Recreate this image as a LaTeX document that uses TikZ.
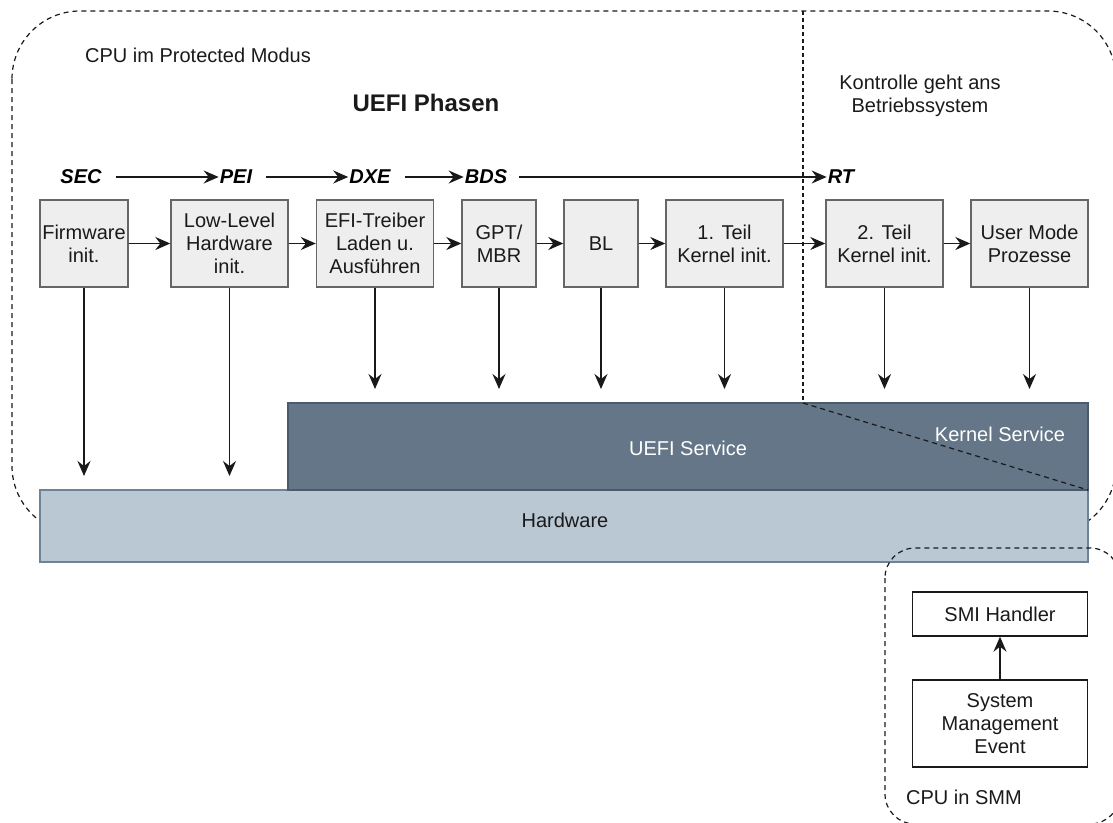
\documentclass[tikz,border=0pt]{standalone}
\usepackage{fontspec}
\setmainfont{Liberation Sans}
\usetikzlibrary{arrows.meta}
\definecolor{boxfill}{HTML}{EEEEEE}
\definecolor{boxline}{HTML}{666666}
\definecolor{uefifill}{HTML}{647687}
\definecolor{uefiline}{HTML}{4A5B6B}
\definecolor{hwfill}{HTML}{BAC8D3}
\definecolor{hwline}{HTML}{6F8396}
\definecolor{ink}{HTML}{1A1A1A}
\begin{document}
\begin{tikzpicture}[x=1pt,y=-1pt,
  txt/.style={font=\fontsize{20}{23}\selectfont, text=ink, align=center, inner sep=0pt},
  stepbox/.style={txt, draw=boxline, fill=boxfill, line width=1.4pt},
  plainbox/.style={txt, draw=ink, fill=white, line width=1.4pt},
  phase/.style={font=\fontsize{20}{24}\selectfont\bfseries\itshape, text=black, inner sep=1pt},
  flow/.style={-{Stealth[length=15pt,width=13pt,inset=5pt]}, line width=1.5pt, draw=black!90},
  zone/.style={draw=ink, line width=1.2pt, dash pattern=on 5pt off 4pt},
  layer/.style={line width=1.2pt}]
\useasboundingbox (0,0) rectangle (1113,822);

% protected-mode region
\draw[zone, rounded corners=68pt] (12,11) rectangle (1116,534);

% service and hardware layers
\path[layer, fill=hwfill, draw=hwline] (40,490) rectangle (1088,562);
\path[layer, fill=uefifill, draw=uefiline] (288,403) rectangle (1088,490);
\node[txt, text=white] (uefisvc) at (688,448) {UEFI Service};
\node[txt, text=white] (kernsvc) at (1000,434) {Kernel Service};
\node[txt] (hw) at (565,520) {Hardware};

% SMM region
\draw[zone, rounded corners=30pt] (885,548) rectangle (1120,824);

% boundary between firmware and operating system
\coordinate (splittop) at (803,11);
\coordinate (splitmid) at (803,403);
\coordinate (splitend) at (1088,490);
\draw[zone, dash pattern=on 4pt off 3pt] (splittop) -- (splitmid);
\draw[zone] (splitmid) -- (splitend);

% titles
\node[txt, anchor=west] (cpupm) at (85,55) {CPU im Protected Modus};
\node[txt, font=\fontsize{24}{28}\selectfont\bfseries] (title) at (426,103) {UEFI Phasen};
\node[txt] (os) at (920,96) {Kontrolle geht ans\\Betriebssystem};

% phase names
\node[phase] (sec) at (81,177) {SEC};
\node[phase] (pei) at (236,177) {PEI};
\node[phase] (dxe) at (370,177) {DXE};
\node[phase] (bds) at (486,177) {BDS};
\node[phase] (rt)  at (841,177) {RT};
\draw[flow, shorten <=13pt] (sec) -- (pei);
\draw[flow, shorten <=13pt] (pei) -- (dxe);
\draw[flow, shorten <=13pt] (dxe) -- (bds);
\draw[flow, shorten <=11pt] (bds) -- (rt);

% boot steps
\node[stepbox, minimum width=88pt,  minimum height=87pt] (fw)  at (84,243.5)   {Firmware\\init.};
\node[stepbox, minimum width=117pt, minimum height=87pt] (ll)  at (229.5,243.5) {Low-Level\\Hardware\\init.};
\node[stepbox, minimum width=117pt, minimum height=87pt] (efi) at (375,243.5)  {EFI-Treiber\\Laden u.\\Ausführen};
\node[stepbox, minimum width=74pt,  minimum height=87pt] (gpt) at (499,243.5)  {GPT/\\MBR};
\node[stepbox, minimum width=74pt,  minimum height=87pt] (bl)  at (601,243.5)  {BL};
\node[stepbox, minimum width=117pt, minimum height=87pt] (k1)  at (724.5,243.5) {1. Teil\\Kernel init.};
\node[stepbox, minimum width=117pt, minimum height=87pt] (k2)  at (884.5,243.5) {2. Teil\\Kernel init.};
\node[stepbox, minimum width=117pt, minimum height=87pt] (um)  at (1029.5,243.5) {User Mode\\Prozesse};

\draw[flow] (fw) -- (ll);
\draw[flow] (ll) -- (efi);
\draw[flow] (efi) -- (gpt);
\draw[flow] (gpt) -- (bl);
\draw[flow] (bl) -- (k1);
\draw[flow] (k1) -- (k2);
\draw[flow] (k2) -- (um);

% calls down into the lower layers
\coordinate (fwdown)  at (84,476);
\coordinate (lldown)  at (229.5,476);
\coordinate (efidown) at (375,389);
\coordinate (gptdown) at (499,389);
\coordinate (bldown)  at (601,389);
\coordinate (k1down)  at (724.5,389);
\coordinate (k2down)  at (884.5,389);
\coordinate (umdown)  at (1029.5,389);
\draw[flow] (fw)  -- (fwdown);
\draw[flow] (ll)  -- (lldown);
\draw[flow] (efi) -- (efidown);
\draw[flow] (gpt) -- (gptdown);
\draw[flow] (bl)  -- (bldown);
\draw[flow] (k1)  -- (k1down);
\draw[flow] (k2)  -- (k2down);
\draw[flow] (um)  -- (umdown);

% system management mode
\node[plainbox, minimum width=175pt, minimum height=44pt] (smi) at (1000,614) {SMI Handler};
\node[plainbox, minimum width=175pt, minimum height=87pt] (sme) at (1000,723.5) {System\\Management\\Event};
\draw[flow] (sme) -- (smi);
\node[txt, anchor=west] (smm) at (906,797) {CPU in SMM};
\end{tikzpicture}
\end{document}
